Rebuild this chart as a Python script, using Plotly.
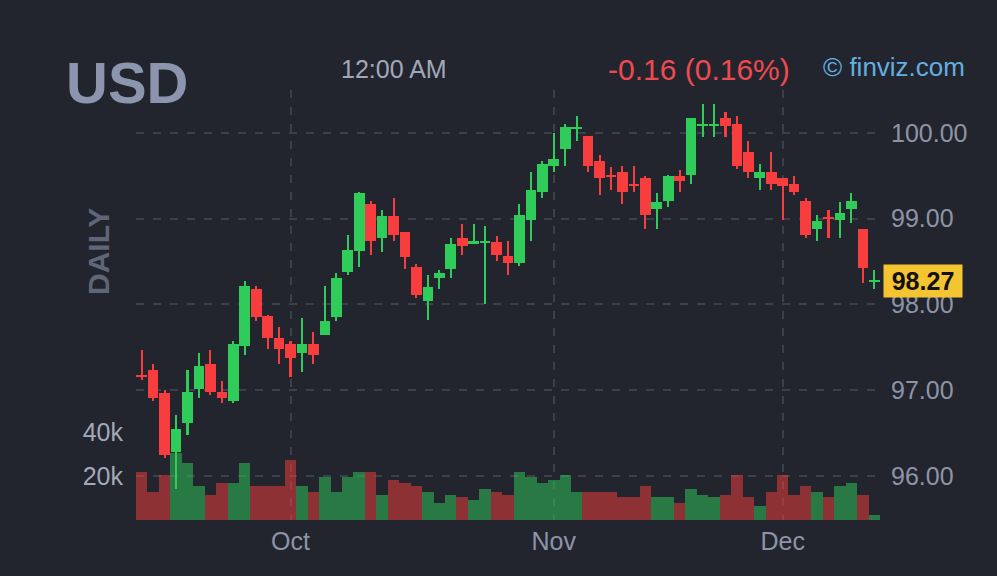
import plotly.graph_objects as go

# ---------------- data ----------------
dates = [
    "2025-09-12", "2025-09-15", "2025-09-16", "2025-09-17", "2025-09-18", "2025-09-19",
    "2025-09-22", "2025-09-23", "2025-09-24", "2025-09-25", "2025-09-26", "2025-09-29", "2025-09-30",
    "2025-10-01", "2025-10-02", "2025-10-03", "2025-10-06", "2025-10-07", "2025-10-08", "2025-10-09",
    "2025-10-10", "2025-10-13", "2025-10-14", "2025-10-15", "2025-10-16", "2025-10-17", "2025-10-20",
    "2025-10-21", "2025-10-22", "2025-10-23", "2025-10-24", "2025-10-27", "2025-10-28", "2025-10-29",
    "2025-10-30", "2025-10-31",
    "2025-11-03", "2025-11-04", "2025-11-05", "2025-11-06", "2025-11-07", "2025-11-10", "2025-11-11",
    "2025-11-12", "2025-11-13", "2025-11-14", "2025-11-17", "2025-11-18", "2025-11-19", "2025-11-20",
    "2025-11-21", "2025-11-24", "2025-11-25", "2025-11-26", "2025-11-27", "2025-11-28",
    "2025-12-01", "2025-12-02", "2025-12-03", "2025-12-04", "2025-12-05", "2025-12-08", "2025-12-09",
    "2025-12-10", "2025-12-11",
]

opens = [97.16, 97.24, 96.97, 96.28, 96.62, 97.02, 97.31, 96.98, 96.88, 97.52,
         98.18, 97.87, 97.61, 97.54, 97.44, 97.54, 97.64, 97.85, 98.38, 98.62,
         99.17, 98.78, 99.03, 98.84, 98.44, 98.04, 98.31, 98.41, 98.77, 98.71,
         98.72, 98.73, 98.57, 98.48, 98.98, 99.31, 99.62, 99.81, 100.05, 99.97,
         99.67, 99.50, 99.54, 99.39, 99.47, 99.11, 99.21, 99.50, 99.51, 100.08,
         100.08, 100.17, 100.11, 99.78, 99.47, 99.54, 99.47, 99.40, 99.21, 98.88,
         99.01, 98.98, 99.11, 98.88, 98.26]
highs = [97.47, 97.31, 97.00, 96.71, 97.24, 97.44, 97.47, 97.11, 97.57, 98.27,
         98.21, 97.88, 97.74, 97.57, 97.84, 97.68, 98.21, 98.37, 98.81, 99.31,
         99.21, 99.10, 99.24, 98.84, 98.47, 98.34, 98.40, 98.77, 98.94, 98.94,
         98.91, 98.80, 98.74, 99.17, 99.54, 99.67, 100.00, 100.10, 100.20, 99.97,
         99.74, 99.60, 99.61, 99.61, 99.50, 99.30, 99.51, 99.57, 100.18, 100.34,
         100.34, 100.24, 100.20, 99.91, 99.64, 99.78, 99.48, 99.50, 99.24, 99.04,
         99.10, 99.20, 99.30, 98.88, 98.40]
lows = [97.12, 96.88, 96.21, 95.85, 96.48, 96.91, 96.94, 96.85, 96.85, 97.41,
        97.81, 97.48, 97.31, 97.15, 97.21, 97.31, 97.64, 97.81, 98.34, 98.44,
        98.58, 98.61, 98.74, 98.41, 98.08, 97.82, 98.18, 98.31, 98.58, 98.71,
        98.01, 98.51, 98.34, 98.45, 98.74, 99.24, 99.55, 99.61, 99.91, 99.55,
        99.28, 99.34, 99.17, 99.31, 98.88, 98.88, 99.14, 99.31, 99.41, 99.95,
        99.95, 99.95, 99.58, 99.47, 99.34, 99.34, 98.98, 99.28, 98.78, 98.74,
        98.78, 98.78, 98.95, 98.25, 98.18]
closes = [97.15, 96.91, 96.25, 96.55, 96.98, 97.28, 96.98, 96.91, 97.54, 98.21,
          97.85, 97.61, 97.48, 97.38, 97.54, 97.41, 97.81, 98.31, 98.64, 99.30,
          98.74, 99.03, 98.81, 98.55, 98.11, 98.20, 98.37, 98.71, 98.68, 98.72,
          98.73, 98.58, 98.48, 99.04, 99.34, 99.64, 99.70, 100.07, 100.06, 99.62,
          99.48, 99.49, 99.31, 99.38, 99.04, 99.20, 99.50, 99.44, 100.17, 100.09,
          100.09, 100.08, 99.62, 99.54, 99.54, 99.41, 99.38, 99.31, 98.81, 98.97,
          99.00, 99.07, 99.21, 98.43, 98.27]
volumes = [22.0, 12.9, 20.6, 30.6, 25.8, 15.5, 11.5, 16.8, 16.8, 25.8,
           15.5, 15.5, 15.5, 27.1, 15.5, 12.9, 19.4, 12.9, 19.4, 22.0,
           22.0, 11.5, 18.0, 16.8, 15.5, 12.9, 7.7, 11.5, 10.3, 8.9,
           14.2, 12.9, 11.5, 22.0, 19.4, 16.8, 18.0, 20.6, 12.9, 12.9,
           12.9, 12.9, 10.3, 10.3, 15.5, 10.3, 10.3, 7.7, 14.2, 11.5,
           10.3, 11.5, 20.6, 10.3, 6.4, 12.9, 20.6, 11.5, 15.5, 12.9,
           10.3, 15.5, 16.8, 11.5, 2.4]  # thousands

price_ticks = [96, 97, 98, 99, 100]
volume_ticks = [20000, 40000]
volume_tick_labels = ["20k", "40k"]
month_ticks = ["2025-10-01", "2025-11-03", "2025-12-01"]
month_labels = ["Oct", "Nov", "Dec"]

symbol = "USD"
time_label = "12:00 AM"
change_label = "-0.16 (0.16%)"
brand_label = "© finviz.com"
period_label = "DAILY"

# ---------------- styles ----------------
BG = "#22252E"
GREEN = "#30CC5A"
RED = "#F73D3D"
GRID = "#3B404C"
FONT = "Liberation Sans, Arial, sans-serif"

W, H = 997, 576
PL, PR, PT, PB = 136, 880, 90, 520
PRICE_RANGE = [95.487, 100.501]
VOL_TOP = 195454


def px(x):
    return (x - PL) / (PR - PL)


def py(y):
    return (PB - y) / (PB - PT)


up = [c >= o for o, c in zip(opens, closes)]
colors = [GREEN if u else RED for u in up]
body_base = [min(o, c) for o, c in zip(opens, closes)]
body_h = [max(abs(c - o), 0.025) for o, c in zip(opens, closes)]
wick_h = [h - l for h, l in zip(highs, lows)]

fig = go.Figure()

# volume (base axis, drawn underneath)
fig.add_trace(go.Bar(
    x=dates, y=[v * 1000 for v in volumes], marker=dict(color=colors, line=dict(width=0)),
    opacity=0.5, width=1.0, yaxis="y", hoverinfo="skip", showlegend=False,
))
# wicks
fig.add_trace(go.Bar(
    x=dates, y=wick_h, base=lows, marker=dict(color=colors, line=dict(width=0)),
    width=0.18, yaxis="y2", hoverinfo="skip", showlegend=False,
))
# bodies
fig.add_trace(go.Bar(
    x=dates, y=body_h, base=body_base, marker=dict(color=colors, line=dict(width=0)),
    width=0.93, yaxis="y2", hoverinfo="skip", showlegend=False,
))

fig.update_layout(
    width=W, height=H,
    margin=dict(l=PL, r=W - PR, t=PT, b=H - PB, pad=0),
    paper_bgcolor=BG, plot_bgcolor=BG,
    barmode="overlay", bargap=0,
    font=dict(family=FONT, color="#8E94A6"),
    xaxis=dict(
        type="category", categoryorder="array", categoryarray=dates,
        range=[-0.5, len(dates) - 0.5],
        tickvals=month_ticks, ticktext=month_labels,
        showgrid=True, gridcolor=GRID, griddash="8px,9px", gridwidth=2,
        zeroline=False, showline=False, ticks="",
        tickfont=dict(size=25, color="#8E94A8"), ticklabelstandoff=4,
    ),
    yaxis=dict(
        range=[0, VOL_TOP], side="left",
        tickvals=volume_ticks, ticktext=volume_tick_labels,
        showgrid=False, zeroline=False, showline=False, ticks="",
        tickfont=dict(size=25, color="#A3A9BA"), ticklabelstandoff=12,
    ),
    yaxis2=dict(
        range=PRICE_RANGE, overlaying="y", side="right",
        tickvals=price_ticks, tickformat=".2f",
        showgrid=True, gridcolor=GRID, griddash="8px,9px", gridwidth=2,
        zeroline=False, showline=False, ticks="",
        tickfont=dict(size=25, color="#8E94A6"), ticklabelstandoff=10,
    ),
    annotations=[
        dict(text=f"<b>{symbol}</b>", x=px(64), y=py(82), xref="paper", yref="paper",
             xanchor="left", yanchor="middle", showarrow=False,
             font=dict(size=58, color="#8C95AE", family=FONT)),
        dict(text=time_label, x=px(339), y=py(69), xref="paper", yref="paper",
             xanchor="left", yanchor="middle", showarrow=False,
             font=dict(size=25, color="#A2A8B8", family=FONT)),
        dict(text=change_label, x=px(606), y=py(70), xref="paper", yref="paper",
             xanchor="left", yanchor="middle", showarrow=False,
             font=dict(size=30, color="#EF4A50", family=FONT)),
        dict(text=brand_label, x=px(821), y=py(67), xref="paper", yref="paper",
             xanchor="left", yanchor="middle", showarrow=False,
             font=dict(size=26, color="#65AEE0", family=FONT)),
        dict(text=f"<b>{period_label}</b>", x=px(98), y=py(252), xref="paper", yref="paper",
             xanchor="center", yanchor="middle", showarrow=False, textangle=-90,
             font=dict(size=30, color="#5F6678", family=FONT)),
        dict(text=f"<b>{closes[-1]:.2f}</b>", x=px(883), y=closes[-1], xref="paper", yref="y2",
             xanchor="left", yanchor="middle", showarrow=False,
             bgcolor="#F5C431", borderpad=2, width=74, height=28, align="center",
             font=dict(size=25, color="#111111", family=FONT)),
    ],
)

fig.write_html(
    "out.html",
    config={"displayModeBar": False},
    post_script=(
        "document.documentElement.style.background='#22252E';"
        "document.body.style.margin='0';"
        "document.body.style.background='#22252E';"
    ),
)
